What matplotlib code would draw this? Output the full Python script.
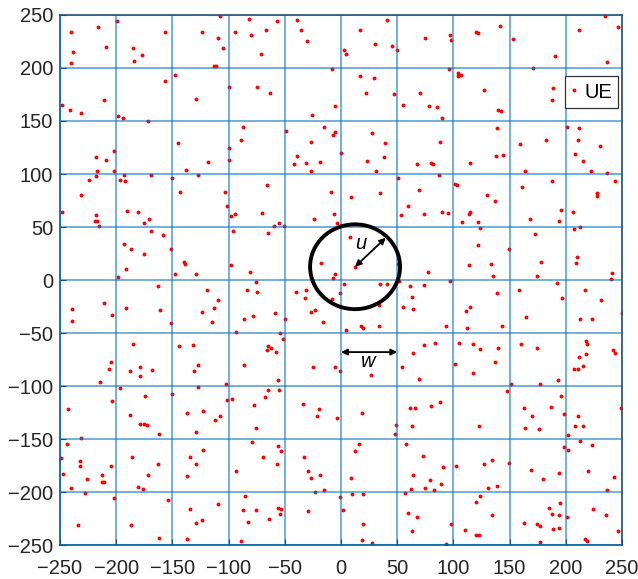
import numpy as np
import matplotlib.pyplot as plt
from matplotlib.patches import Circle

plt.rcParams['font.family'] = ['Liberation Sans', 'DejaVu Sans']

# UE positions (m), grouped in three horizontal bands
ue_upper = [
    (-240, 234), (-216, 239), (-199, 244), (-209, 220), (-238, 215), (-240, 205), (-185, 219),
    (-184, 207), (-177, 212), (-157, 234), (-157, 188), (-148, 193), (-124, 234), (-109, 228),
    (-113, 202), (-111, 202), (-108, 249), (-248, 165), (-241, 160), (-231, 158), (-211, 170),
    (-198, 155), (-194, 153), (-172, 150), (-129, 171), (-145, 129), (-118, 111), (-138, 104),
    (-127, 99), (-150, 96), (-143, 83), (-169, 99), (-202, 122), (-218, 116), (-209, 113),
    (-217, 103), (-202, 103), (-218, 98), (-193, 99), (-224, 94), (-197, 94), (-192, 93), (-231, 80),
    (-105, 219), (-82, 246), (-94, 234), (-80, 231), (-67, 236), (-57, 244), (-71, 213), (-39, 245),
    (-36, 236), (-30, 225), (-8, 199), (3, 217), (4, 213), (17, 236), (41, 245), (30, 223), (45, 221),
    (50, 217), (17, 192), (29, 191), (22, 176), (47, 175), (55, 165), (70, 176), (-100, 182),
    (-75, 182), (-63, 176), (-5, 164), (-26, 156), (-87, 144), (-89, 132), (-100, 125), (-100, 113),
    (-49, 141), (-15, 144), (-5, 140), (-7, 137), (-27, 130), (-39, 117), (-42, 109), (-31, 110),
    (-19, 111), (-27, 103), (0, 120), (28, 139), (39, 129), (38, 116), (23, 112), (31, 103), (68, 109),
    (51, 96), (-66, 90), (-103, 83), (-9, 83), (9, 78), (35, 82), (69, 85),
    (75, 228), (97, 231), (98, 226), (120, 234), (122, 233), (141, 240), (153, 227), (190, 211),
    (171, 200), (212, 236), (235, 249), (246, 239), (237, 206), (96, 199), (104, 195), (104, 192),
    (107, 193), (127, 179), (189, 181), (188, 170), (78, 164), (85, 163), (90, 153), (140, 160),
    (142, 159), (139, 143), (201, 144), (212, 143), (211, 132), (230, 126), (208, 119), (215, 112),
    (222, 103), (237, 101), (244, 93), (228, 82), (228, 79), (88, 130), (159, 128), (182, 132),
    (138, 117), (144, 118), (115, 110), (80, 110), (82, 109), (87, 99), (164, 103), (188, 93),
    (161, 88), (101, 91), (103, 90), (130, 80), (137, 75),
]

ue_middle = [
    (-248, 64), (-218, 61), (-219, 56), (-217, 56), (-215, 51), (-190, 65), (-181, 64), (-175, 54),
    (-171, 58), (-169, 46), (-158, 42), (-193, 34), (-187, 29), (-175, 25), (-151, 29), (-140, 17),
    (-139, 15), (-148, 6), (-129, 6), (-191, 10), (-198, 3), (-163, -6), (-119, -9), (-109, -19),
    (-239, -27), (-239, -39), (-211, -22), (-204, -33), (-191, -26), (-161, -28), (-124, -30),
    (-113, -26), (-115, -40), (-151, -41), (-185, -60), (-144, -62), (-132, -61), (-205, -77),
    (-206, -84), (-188, -86), (-179, -82), (-179, -91), (-168, -85), (-127, -80), (-131, -86),
    (-101, 70), (-98, 60), (-94, 62), (-70, 63), (-60, 51), (-55, 54), (-51, 51), (-96, 46), (-65, 44),
    (-24, 58), (-6, 62), (-4, 54), (8, 41), (12.5, 12.5), (-18, 16), (-5, 6), (-7, 2), (3, -4),
    (-98, 14), (-81, 8), (-76, -2), (-75, -11), (-84, -9), (-40, -11), (-31, -9), (-32, -17),
    (-27, -30), (-23, -28), (-8, -18), (-1, -12), (35, -4), (41, -4), (52, -1), (34, -24), (4, -47),
    (18, -43), (20, -45), (34, -43), (-16, -40), (-59, -31), (-86, -37), (-78, -34), (-50, -37),
    (-54, -50), (-93, -49), (-52, -56), (-66, -66), (-62, -64), (-65, -62), (-58, -68), (-86, -80),
    (-25, -82), (-5, -82), (-1, -86), (27, -90), (54, -82), (64, -69), (60, 70), (53, 61), (61, -6),
    (63, -16), (64, -27), (55, -25), (51, 15), (69, -93), (-56, -94),
    (74, 62), (90, 64), (95, 63), (114, 62), (115, 64), (108, 55), (122, 55), (124, 49), (168, 58),
    (196, 66), (206, 64), (194, 56), (207, 48), (213, 50), (173, 43), (122, 33), (149, 29), (77, 8),
    (114, 14), (133, 15), (135, 4), (178, 17), (174, 4), (210, 22), (209, 16), (241, 7), (240, 1),
    (97, -1), (74, -5), (139, -12), (158, -9), (192, -3), (197, -17), (217, -9), (231, -19),
    (213, -37), (223, -37), (250, -31), (115, -25), (111, -29), (165, -35), (93, -43), (112, -45),
    (143, -43), (74, -61), (84, -59), (105, -59), (117, -60), (124, -65), (140, -64), (160, -60),
    (174, -64), (101, -79), (137, -77), (117, -88), (218, -58), (219, -60), (212, -73), (218, -70),
    (215, -81), (207, -84), (211, -84), (242, -66), (244, -69), (193, -94),
]

ue_lower = [
    (-214, -96), (-197, -102), (-204, -114), (-174, -109), (-150, -108), (-127, -101), (-243, -122),
    (-188, -127), (-179, -136), (-175, -136), (-173, -137), (-162, -145), (-137, -125), (-123, -124),
    (-112, -132), (-108, -128), (-129, -143), (-231, -149), (-244, -155), (-249, -168), (-232, -171),
    (-232, -175), (-247, -183), (-226, -188), (-240, -196), (-228, -201), (-213, -184), (-213, -191),
    (-211, -191), (-205, -175), (-186, -167), (-181, -195), (-176, -197), (-172, -184), (-163, -174),
    (-162, -243), (-154, -208), (-202, -206), (-187, -231), (-234, -231), (-137, -185), (-134, -167),
    (-129, -174), (-123, -160), (-134, -216), (-129, -229), (-124, -226), (-137, -244), (-109, -211),
    (-102, -98), (-101, -113), (-97, -112), (-77, -118), (-68, -110), (-65, -104), (-55, -104),
    (-76, -140), (-79, -153), (-69, -167), (-56, -157), (-53, -161), (-57, -174), (-93, -180),
    (-34, -117), (-20, -122), (-21, -128), (-4, -130), (19, -125), (-33, -167), (-29, -180),
    (-27, -187), (-19, -184), (-23, -200), (-15, -198), (-1, -205), (2, -217), (-29, -218), (9, -187),
    (10, -202), (20, -202), (12, -161), (16, -155), (20, -230), (19, -245), (28, -248), (49, -137),
    (48, -145), (58, -155), (61, -121), (66, -121), (63, -138), (64, -184), (62, -197), (57, -201),
    (60, -220), (68, -224), (63, -237), (-87, -217), (-76, -217), (-83, -228), (-64, -225),
    (-56, -215), (-53, -216), (-54, -221), (-85, -204), (-89, -246),
    (151, -98), (177, -98), (80, -119), (88, -115), (148, -105), (196, -109), (123, -138), (163, -121),
    (170, -128), (164, -140), (176, -141), (187, -120), (198, -126), (211, -128), (208, -138),
    (215, -138), (202, -146), (213, -152), (198, -158), (202, -160), (223, -156), (73, -166),
    (91, -176), (79, -189), (75, -196), (83, -198), (89, -192), (102, -175), (127, -174), (134, -170),
    (149, -173), (131, -196), (139, -194), (169, -179), (180, -188), (194, -182), (220, -180),
    (243, -186), (237, -198), (120, -209), (124, -204), (134, -222), (98, -230), (110, -236),
    (120, -241), (123, -241), (93, -249), (163, -229), (174, -230), (177, -232), (185, -215),
    (195, -210), (188, -221), (194, -222), (201, -224), (189, -235), (194, -234), (177, -247),
    (224, -216), (236, -222), (246, -237), (217, -244), (219, -246), (249, -121),
]

# coverage disc of the UAV and the grid cell width
CELL_CENTER = (12.5, 12.5)
CELL_RADIUS = 40
W_SPAN = (0, 50)
W_LEVEL = -68

AREA = 250
TICKS = np.arange(-250, 251, 50)

ue = np.array(ue_upper + ue_middle + ue_lower, dtype=float)

fig = plt.figure(figsize=(6.38, 5.79), dpi=100)
ax = fig.add_axes([0.094, 0.0587, 0.881, 0.9154])

ax.plot(ue[:, 0], ue[:, 1], 'o', color='red', markersize=2.8,
        markeredgewidth=0, linestyle='none', label='UE', zorder=2)

ax.set_xlim(-AREA, AREA)
ax.set_ylim(-AREA, AREA)
ax.set_xticks(TICKS)
ax.set_yticks(TICKS)
ax.set_axisbelow(False)
ax.grid(True, color='#0072BD', linewidth=1.2, alpha=0.65)

for s in ax.spines.values():
    s.set_color('#1d4f7a')
    s.set_linewidth(1.2)
ax.tick_params(direction='in', length=4, color='#1d4f7a', labelsize=14.5,
               labelcolor='#262626')
ax.tick_params(axis='x', pad=10)
ax.tick_params(axis='y', pad=5)

# coverage circle and radius arrow
ax.add_patch(Circle(CELL_CENTER, CELL_RADIUS, fill=False, edgecolor='black',
                    linewidth=2.8, zorder=5))
r45 = CELL_RADIUS * np.cos(np.pi / 4)
ax.annotate('', xy=(CELL_CENTER[0] + r45 - 1, CELL_CENTER[1] + r45 - 1), xytext=CELL_CENTER,
            arrowprops=dict(arrowstyle='<|-|>', color='black', lw=1.3,
                            mutation_scale=9, shrinkA=0, shrinkB=0), zorder=6)
ax.text(17.5, 34, 'u', fontsize=14.5, style='italic', ha='center', va='center', zorder=6)

# cell width arrow
ax.annotate('', xy=(W_SPAN[1], W_LEVEL), xytext=(W_SPAN[0], W_LEVEL),
            arrowprops=dict(arrowstyle='<|-|>', color='black', lw=1.3,
                            mutation_scale=9, shrinkA=0, shrinkB=0), zorder=6)
ax.text(24, -76.5, 'w', fontsize=14.5, style='italic', ha='center', va='center', zorder=6)

leg = ax.legend(loc='upper right', bbox_to_anchor=(0.993, 0.884), fontsize=14.5,
                frameon=True, fancybox=False, framealpha=1, edgecolor='#333333',
                handlelength=0.3, handletextpad=0.35, borderpad=0.3,
                borderaxespad=0, markerscale=1.0)
leg.get_frame().set_linewidth(0.9)

fig.savefig('out.png', dpi=100)
